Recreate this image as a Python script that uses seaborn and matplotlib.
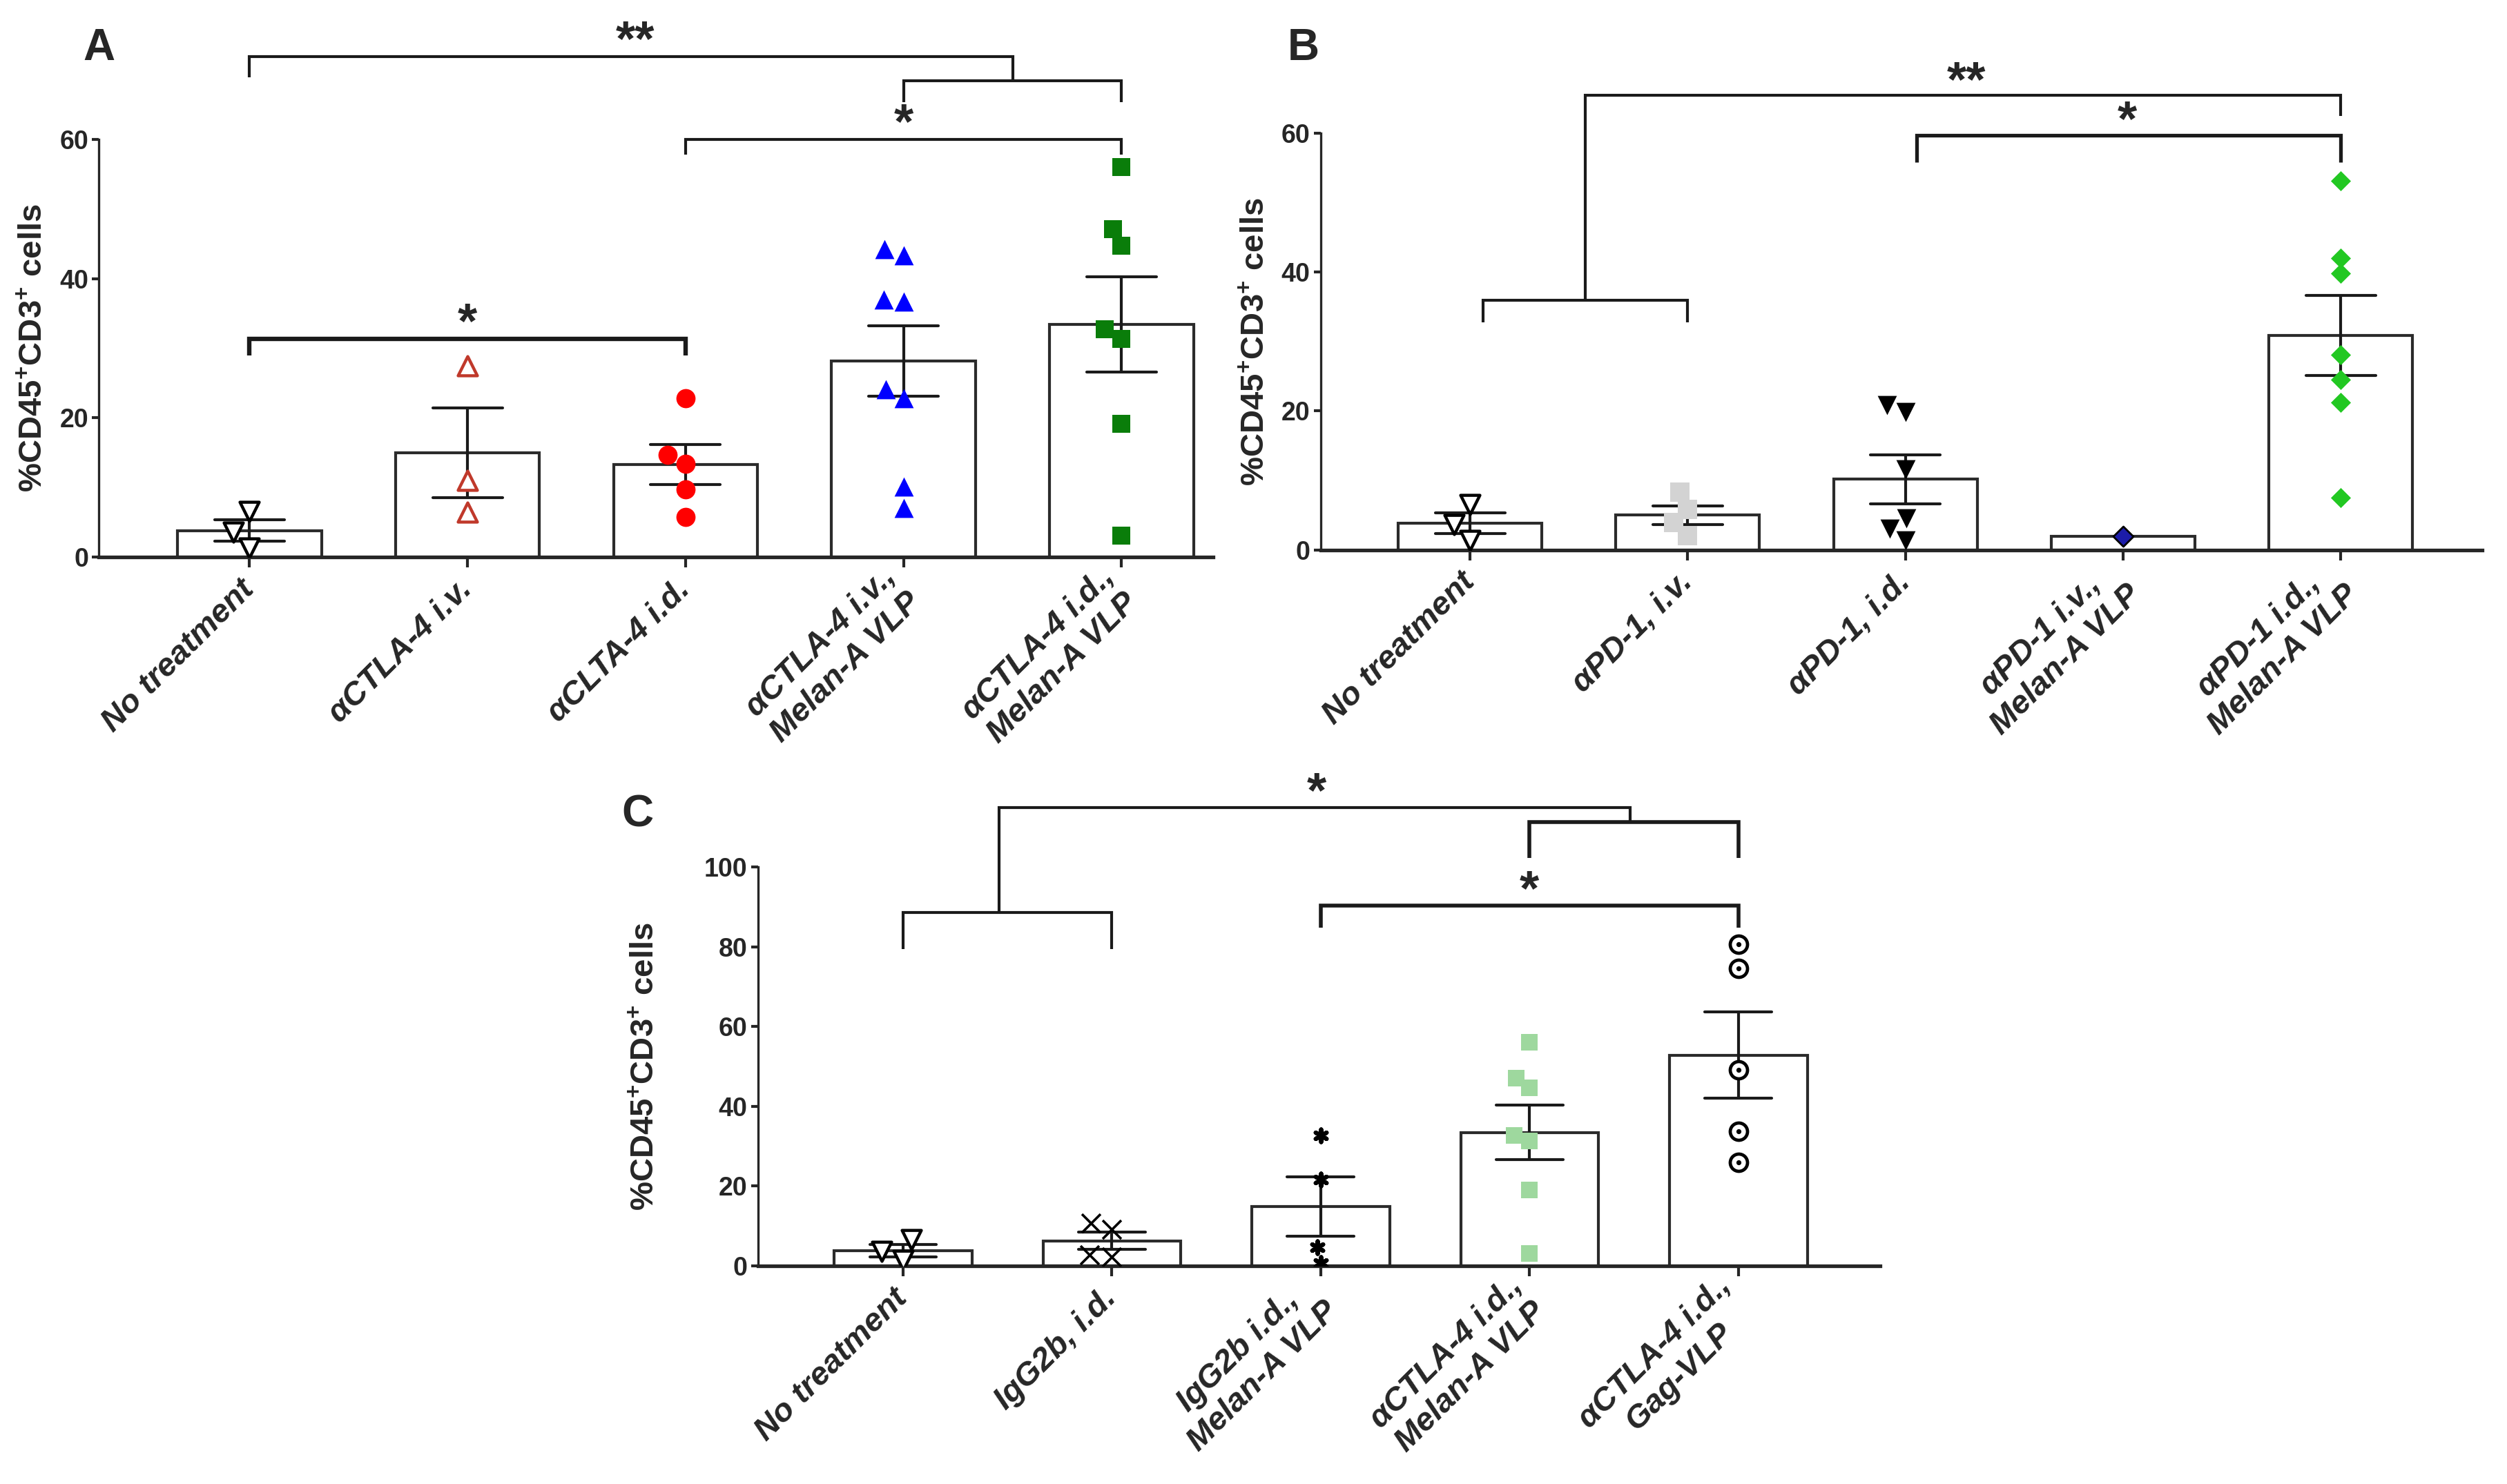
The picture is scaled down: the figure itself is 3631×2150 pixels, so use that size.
import warnings
import matplotlib
matplotlib.use("Agg")
import matplotlib.pyplot as plt
import numpy as np
import pandas as pd
import seaborn as sns

warnings.filterwarnings("ignore")

# Panel A data (% CD45+CD3+ cells per mouse)
a_groups = ["No treatment", "αCTLA-4 i.v.", "αCLTA-4 i.d.",
            "αCTLA-4 i.v.,\nMelan-A VLP", "αCTLA-4 i.d.,\nMelan-A VLP"]
no_treatment = [6.5, 3.6, 1.3]
ctla4_iv = [27.5, 11.0, 6.4]
ctla4_id = [22.8, 14.7, 13.4, 9.7, 5.7]
ctla4_iv_vlp = [43.3, 44.2, 36.7, 37.0, 22.8, 24.1, 10.1, 7.0]
ctla4_id_vlp = [56.0, 47.1, 44.7, 32.7, 31.3, 19.1, 3.1]

# Panel B data
b_groups = ["No treatment", "αPD-1, i.v.", "αPD-1, i.d.",
            "αPD-1 i.v.,\nMelan-A VLP", "αPD-1 i.d.,\nMelan-A VLP"]
pd1_iv = [8.3, 5.8, 3.9, 2.0]
pd1_id = [20.8, 19.8, 11.6, 4.5, 3.0, 1.3]
pd1_iv_vlp = [1.9]
pd1_id_vlp = [53.1, 42.0, 39.8, 28.1, 24.5, 21.2, 7.5]

# Panel C data
c_groups = ["No treatment", "IgG2b, i.d.", "IgG2b i.d.,\nMelan-A VLP",
            "αCTLA-4 i.d.,\nMelan-A VLP", "αCTLA-4 i.d.,\nGag-VLP"]
igg_id = [9.2, 10.7, 2.3, 2.8]
igg_id_vlp = [32.7, 21.6, 4.7, 0.6]
ctla4_id_gag = [80.7, 74.6, 49.2, 33.7, 26.0]

sns.set_style("ticks")
plt.rcParams["font.family"] = ["Liberation Sans", "DejaVu Sans"]
plt.rcParams["mathtext.fontset"] = "custom"
plt.rcParams["mathtext.rm"] = "Liberation Sans:bold"
plt.rcParams["mathtext.bf"] = "Liberation Sans:bold"

YLABEL = "%CD45$^{\\mathbf{+}}$CD3$^{\\mathbf{+}}$ cells"
LINE = "#1a1a1a"


def style(marker, fc, ec, lw=0, size=10, dot=False):
    return dict(marker=marker, fc=fc, ec=ec, lw=lw, size=size, dot=dot)


def draw_panel(ax, groups, series, styles, ymax, step, xlim, label_x):
    df = pd.DataFrame({"group": np.repeat(groups, [len(s) for s in series]),
                       "value": np.concatenate(series)})
    sns.barplot(data=df, x="group", y="value", order=groups, errorbar="se",
                capsize=0.32, width=0.66, color="white", saturation=1,
                edgecolor="#2b2b2b", linewidth=1.5,
                err_kws={"color": LINE, "linewidth": 1.5}, ax=ax)
    for g, st in zip(groups, styles):
        sub = df[df.group == g]
        sns.swarmplot(data=sub, x="group", y="value", order=groups,
                      size=st["size"], marker=st["marker"], color=st["fc"],
                      edgecolor=st["ec"], linewidth=st["lw"], zorder=3, ax=ax)
        if st["dot"]:
            # centre dot of the circled markers
            sns.swarmplot(data=sub, x="group", y="value", order=groups,
                          size=2.6, marker="o", color="black", linewidth=0,
                          zorder=4, ax=ax)
    ax.set_xlim(*xlim)
    ax.set_ylim(0, ymax)
    ax.set_yticks(np.arange(0, ymax + 1, step))
    ax.set_xticks(range(len(groups)))
    ax.set_xticklabels(groups, rotation=45, ha="right", va="center",
                       rotation_mode="anchor", fontsize=17, fontweight="bold",
                       style="italic", multialignment="center")
    for t in ax.get_yticklabels():
        t.set_fontweight("bold")
        t.set_fontsize(13.5)
    ax.set_xlabel("")
    ax.set_ylabel(YLABEL, fontsize=17, fontweight="bold")
    ax.yaxis.set_label_coords(label_x, 0.5)
    sns.despine(ax=ax)
    ax.spines["bottom"].set_linewidth(1.9)
    ax.spines["left"].set_linewidth(1.2)
    ax.tick_params(axis="x", length=5.5, width=1.5, pad=9)
    ax.tick_params(axis="y", length=3.5, width=1.5, pad=2)


def line(ax, xs, ys, lw=1.5):
    ax.plot(xs, ys, color=LINE, lw=lw, clip_on=False, solid_capstyle="butt",
            solid_joinstyle="miter")


def star(ax, x, y, s):
    ax.text(x, y, s, ha="center", va="baseline", fontsize=26,
            fontweight="bold", clip_on=False)


fig = plt.figure(figsize=(18.155, 10.75), dpi=200)
ax_a = fig.add_axes([0.0395, 0.6247, 0.4444, 0.2814])
ax_b = fig.add_axes([0.5268, 0.6295, 0.4632, 0.2807])
ax_c = fig.add_axes([0.3024, 0.1470, 0.4475, 0.2688])

open_v = style("v", "white", "black", 1.6)
draw_panel(ax_a, a_groups,
           [no_treatment, ctla4_iv, ctla4_id, ctla4_iv_vlp, ctla4_id_vlp],
           [open_v, style("^", "white", "#c0392b", 1.6),
            style("o", "#ff0000", "#ff0000"), style("^", "#0000ff", "#0000ff"),
            style("s", "#0a7d0a", "#0a7d0a", 0, 9.7)],
           60, 20, (-0.69, 4.42), -0.045)
draw_panel(ax_b, b_groups,
           [no_treatment, pd1_iv, pd1_id, pd1_iv_vlp, pd1_id_vlp],
           [open_v, style("s", "#d3d3d3", "#d3d3d3", 0, 9.8),
            style("v", "black", "black"), style("D", "#1c1ca8", "black", 1, 7.4),
            style("D", "#22c822", "#22c822", 0, 7.4)],
           60, 20, (-0.686, 4.648), -0.043)
draw_panel(ax_c, c_groups,
           [no_treatment, igg_id, igg_id_vlp, ctla4_id_vlp, ctla4_id_gag],
           [open_v, style("x", "black", "black", 1.3, 9.7),
            style((6, 2, 0), "black", "black", 2.2, 6.5),
            style("s", "#9ed89e", "#9ed89e", 0, 8.3),
            style("o", "white", "black", 1.7, 9.0, dot=True)],
           100, 20, (-0.694, 4.678), -0.087)

# significance brackets, panel A
line(ax_a, [0, 0, 2, 2], [28.9, 31.3, 31.3, 28.9], lw=2.3)
star(ax_a, 1.0, 31.5, "*")
line(ax_a, [2, 2, 4, 4], [57.8, 60.0, 60.0, 57.8])
star(ax_a, 3.0, 60.2, "*")
line(ax_a, [3, 3, 4, 4], [65.3, 68.4, 68.4, 65.3])
line(ax_a, [0, 0, 3.5, 3.5], [68.9, 71.9, 71.9, 68.4])
star(ax_a, 1.77, 72.1, "**")

# panel B
line(ax_b, [0.06, 0.06, 1.0, 1.0], [32.8, 35.9, 35.9, 32.8])
line(ax_b, [0.53, 0.53, 4.0, 4.0], [35.9, 65.5, 65.5, 62.5])
star(ax_b, 2.28, 65.4, "**")
line(ax_b, [2.05, 2.05, 4.0, 4.0], [55.8, 59.7, 59.7, 55.8], lw=1.9)
star(ax_b, 3.02, 59.7, "*")

# panel C
line(ax_c, [0, 0, 1, 1], [79.4, 88.5, 88.5, 79.4])
line(ax_c, [0.46, 0.46, 3.48, 3.48], [88.5, 114.9, 114.9, 111.3])
line(ax_c, [3.0, 3.0, 4.0, 4.0], [102.2, 111.3, 111.3, 102.2], lw=2.0)
star(ax_c, 1.98, 115.0, "*")
line(ax_c, [2.0, 2.0, 4.0, 4.0], [84.8, 90.3, 90.3, 84.8], lw=2.0)
star(ax_c, 3.0, 90.4, "*")

for letter, x, y in [("A", 143, 70), ("B", 1888, 70), ("C", 923, 1180)]:
    fig.text(x / 3631, 1 - y / 2150, letter, ha="center", va="center",
             fontsize=23, fontweight="bold")

fig.savefig("out.png", dpi=200, facecolor="white")
